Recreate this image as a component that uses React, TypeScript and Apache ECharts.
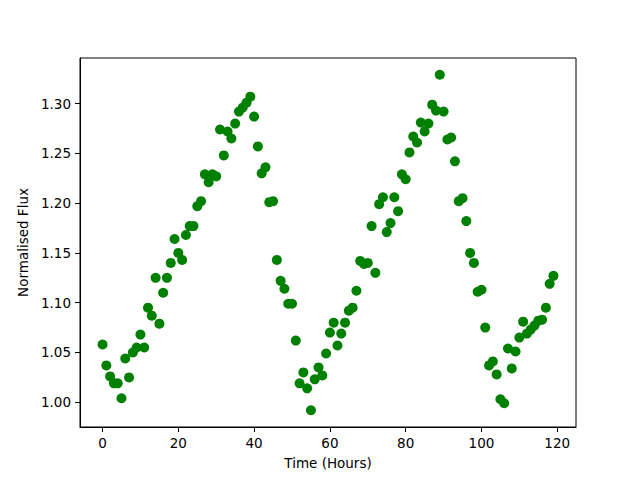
import React, { useEffect, useRef } from "react";
import * as echarts from "echarts";

const hours: number[] = Array.from({ length: 120 }, (_, i) => i);
const flux: number[] = [
  1.058, 1.037, 1.026, 1.019, 1.019, 1.004, 1.044, 1.025, 1.050, 1.055,
  1.068, 1.055, 1.095, 1.087, 1.125, 1.079, 1.110, 1.125, 1.140, 1.164,
  1.150, 1.143, 1.168, 1.177, 1.177, 1.197, 1.202, 1.229, 1.221, 1.229,
  1.227, 1.274, 1.248, 1.272, 1.265, 1.280, 1.292, 1.296, 1.301, 1.307,
  1.287, 1.257, 1.230, 1.236, 1.201, 1.202, 1.143, 1.122, 1.114, 1.099,
  1.099, 1.062, 1.019, 1.030, 1.014, 0.992, 1.023, 1.035, 1.027, 1.049,
  1.070, 1.080, 1.057, 1.069, 1.080, 1.092, 1.095, 1.112, 1.142, 1.139,
  1.140, 1.177, 1.130, 1.199, 1.206, 1.171, 1.180, 1.206, 1.192, 1.229,
  1.224, 1.251, 1.267, 1.261, 1.281, 1.272, 1.280, 1.299, 1.293, 1.329,
  1.292, 1.264, 1.266, 1.242, 1.202, 1.205, 1.182, 1.150, 1.140, 1.111,
  1.113, 1.075, 1.037, 1.041, 1.028, 1.003, 0.999, 1.054, 1.034, 1.051,
  1.065, 1.081, 1.069, 1.073, 1.077, 1.082, 1.083, 1.095, 1.119, 1.127,
];
const xTicks: number[] = [0, 20, 40, 60, 80, 100, 120];
const yTicks: number[] = [1.0, 1.05, 1.1, 1.15, 1.2, 1.25, 1.3];

export default function App() {
  const ref = useRef<HTMLDivElement>(null);
  useEffect(() => {
    if (!ref.current) return;
    const chart = echarts.init(ref.current, undefined, { renderer: "svg" });
    const xMin = Math.min(...hours), xMax = Math.max(...hours);
    const yMin = Math.min(...flux), yMax = Math.max(...flux);
    const xm = (xMax - xMin) * 0.05, ym = (yMax - yMin) * 0.05;
    const font = "DejaVu Sans";
    chart.setOption({
      animation: false,
      backgroundColor: "#ffffff",
      grid: { left: 80, right: 64, top: 58, bottom: 53, show: true, borderColor: "#000", borderWidth: 1, backgroundColor: "transparent" },
      xAxis: {
        type: "value",
        min: xMin - xm,
        max: xMax + xm,
        name: "Time (Hours)",
        nameLocation: "middle",
        nameGap: 29,
        nameTextStyle: { color: "#000", fontSize: 13.5, fontFamily: font },
        axisLine: { show: true, onZero: false, lineStyle: { color: "#000", width: 1 } },
        axisTick: { show: true, length: 5, inside: false, customValues: xTicks, lineStyle: { color: "#000" } },
        axisLabel: { customValues: xTicks, color: "#000", fontSize: 13.5, fontFamily: font, margin: 9, formatter: (v: number) => String(v) },
        splitLine: { show: false },
      },
      yAxis: {
        type: "value",
        min: yMin - ym,
        max: yMax + ym,
        name: "Normalised Flux",
        nameLocation: "middle",
        nameGap: 44,
        nameTextStyle: { color: "#000", fontSize: 13.5, fontFamily: font },
        axisLine: { show: true, onZero: false, lineStyle: { color: "#000", width: 1 } },
        axisTick: { show: true, length: 5, inside: false, customValues: yTicks, lineStyle: { color: "#000" } },
        axisLabel: { customValues: yTicks, color: "#000", fontSize: 13.5, fontFamily: font, margin: 9, formatter: (v: number) => v.toFixed(2) },
        splitLine: { show: false },
      },
      series: [
        {
          type: "scatter",
          data: hours.map((h, i) => [h, flux[i]]),
          symbol: "circle",
          symbolSize: 10,
          itemStyle: { color: "#008000", opacity: 1 },
        },
      ],
    });
    return () => chart.dispose();
  }, []);
  return <div ref={ref} style={{ width: 640, height: 480, position: "absolute", left: 0, top: 0 }} />;
}
